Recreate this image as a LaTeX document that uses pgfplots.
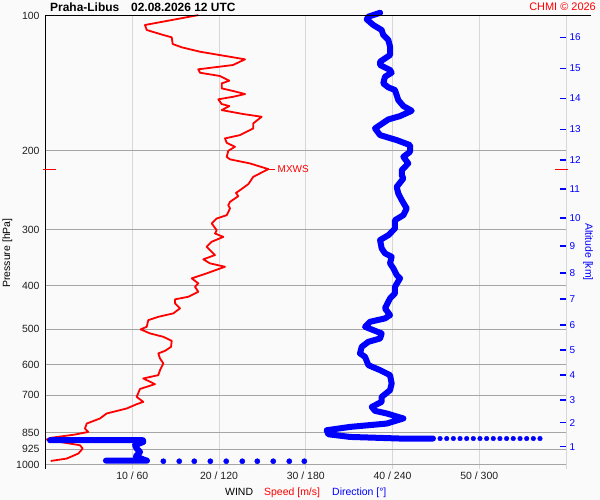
\documentclass[border=0pt]{standalone}
\usepackage{fontspec}
\setmainfont{Liberation Sans}
\usepackage{pgfplots}
\pgfplotsset{compat=1.18}
\definecolor{bg}{RGB}{250,250,250}
\definecolor{hgrid}{RGB}{165,165,165}
\definecolor{vgrid}{RGB}{215,215,215}
\definecolor{tred}{RGB}{255,0,0}
\definecolor{tblue}{RGB}{0,0,255}

\pgfplotstableread{
s p
17.61 99.8
11.47 104.99
11.67 107.72
13.58 110.52
14.55 111.82
14.66 115.73
15.70 117.71
17.81 120.41
23.00 125.19
21.61 128.92
17.61 131.77
17.81 134.10
20.12 136.40
21.19 139.74
20.31 141.6
20.31 145.3
21.65 147.32
23.00 149.59
21.65 151.69
19.92 153.69
20.31 157.46
21.19 159.11
20.31 162.42
22.80 165.76
24.92 168.09
23.95 173.88
23.95 178.41
22.42 184.66
20.69 187.80
20.89 192.09
21.84 196.08
21.07 200.14
20.89 206.40
21.27 209.1
23.57 213.5
25.68 219.8
23.95 228.7
23.38 237.4
22.42 244.88
21.96 248.3
22.22 252.5
21.27 260.0
21.07 264.47
21.27 268.9
20.89 278.40
19.73 283.2
19.16 290.5
19.73 300.67
19.54 305.8
20.50 311.2
19.16 319.0
18.58 327.3
19.54 341.54
18.19 349.1
18.96 356.4
20.69 362.7
18.58 375.1
16.85 384.9
17.61 394.9
17.23 401.9
17.61 412.3
16.46 423.0
14.93 428.6
14.93 437.6
15.50 449.0
14.73 460.6
13.00 468.8
11.85 476.79
11.67 493.4
10.97 500.0
12.05 510.4
13.58 519.4
14.55 530.2
14.47 546.8
13.78 558.1
13.00 565.6
13.20 580.3
13.58 595.4
13.20 616.27
13.00 632.29
11.27 643.0
12.62 662.1
10.89 678.7
10.51 706.7
11.27 725.1
10.51 733.8
9.36 750.1
7.05 769.6
6.28 789.6
4.75 810.3
4.55 831.3
4.93 845.8
3.40 857.3
0.52 872.3
0.14 879.5
1.67 890.4
3.98 905.64
4.29 921.2
3.78 945.1
2.44 969.7
0.60 981.6
}\speedtab

\pgfplotstableread{
d p
231.4 98.6
223.3 100.6
222.2 102.0
226.7 104.99
232.5 107.72
233.6 110.52
237.1 113.39
238.3 117.35
238.3 122.47
231.4 126.74
231.4 128.92
238.3 132.27
239.4 134.10
234.8 136.89
233.6 141.6
237.1 144.55
241.7 146.57
244.0 154.29
247.5 159.11
253.3 163.0
245.2 167.5
237.1 170.4
227.9 178.4
231.4 184.66
242.9 189.46
252.1 194.38
252.1 201.2
247.5 206.4
250.9 213.5
246.4 220.99
246.4 226.74
247.5 230.6
242.9 240.8
244.0 249.1
246.4 257.77
249.8 268.9
247.5 278.40
241.7 285.63
241.7 298.1
237.1 308.49
231.4 316.23
232.5 330.0
234.8 338.6
239.4 344.5
238.3 356.4
240.6 365.7
242.9 378.46
245.2 384.9
241.7 401.9
241.7 415.7
238.3 426.6
237.1 434.0
234.8 449.0
238.3 464.71
234.8 472.6
224.4 480.9
221.0 493.4
226.7 501.9
232.5 510.4
231.4 523.8
223.3 532.9
218.7 546.8
217.5 565.6
221.0 575.6
223.3 600.66
231.4 616.27
238.3 632.29
239.4 659.9
238.3 682.90
232.5 706.7
232.5 725.1
225.6 744.0
227.9 759.4
236.0 769.6
247.5 789.6
236.0 810.3
210.6 824.4
194.5 838.53
195.6 856.0
210.6 867.8
245.2 875.0
268.0 875.0
}\dirtab

\pgfplotstableread{
d p
3.1 882.69
67.4 882.69
67.6 890.4
61.9 905.64
63.1 921.2
65.4 937.3
62.5 958.2
68.0 975.0
70.2 980.0
41.8 980.0
}\dirlow

\pgfplotstableread{
d p
81.5 983
92.5 983
102.9 983
114.0 983
125.0 983
136.1 983
146.5 983
157.5 983
168.6 983
179.0 983
}\dirdotsA

\pgfplotstableread{
d p
272.9 875
277.5 875
282.1 875
286.7 875
291.3 875
295.9 875
300.5 875
305.1 875
309.7 875
314.3 875
318.9 875
323.5 875
328.2 875
332.8 875
337.4 875
342.0 875
}\dirdotsB

\begin{document}
\begin{tikzpicture}[x=1bp,y=1bp]
\path[use as bounding box, fill=bg] (0,0) rectangle (600,500);
\begin{axis}[
  at={(45.5bp,31bp)}, anchor=south west,
  scale only axis, width=520.5bp, height=453.5bp,
  xmin=0, xmax=60, ymode=log, ymin=100, ymax=1023, y dir=reverse,
  clip=false,
  axis line style={draw=none},
  tick style={draw=none},
  yminorticks=false,
  xtick={10,20,30,40,50,60},
  xticklabels={10 / 60, 20 / 120, 30 / 180, 40 / 240, 50 / 300, {}},
  ytick={100,200,300,400,500,600,700,850,925,1000},
  yticklabels={100,200,300,400,500,600,700,850,925,1000},
  xmajorgrids, ymajorgrids,
  x grid style={vgrid, line width=1bp},
  y grid style={hgrid, line width=1bp},
  ticklabel style={font=\fontsize{10.5}{12}\selectfont, text=black!88},
  xticklabel style={anchor=base, yshift=-10.8bp},
  yticklabel style={anchor=east, xshift=-2.5bp},
]
\addplot[tred, line width=1.8bp, line join=round] table[x=s, y=p] {\speedtab};
\end{axis}

\begin{axis}[
  at={(45.5bp,31bp)}, anchor=south west,
  scale only axis, width=520.5bp, height=453.5bp,
  xmin=0, xmax=360, ymode=log, ymin=100, ymax=1023, y dir=reverse,
  clip=false,
  hide x axis,
  axis y line*=right,
  y axis line style={draw=none},
  yminorticks=false,
  ytick={111.8,131.1,152.9,179.3,209.8,243.4,282.5,326.1,374.6,427.9,489.0,555.9,631.8,718.4,807.0,912.8},
  yticklabels={16,15,14,13,12,11,10,9,8,7,6,5,4,3,2,1},
  ytick style={tblue, line width=1.3bp},
  major tick length=6bp,
  tick align=inside,
  yticklabel style={font=\fontsize{10}{12}\selectfont, text=tblue},
]
\addplot[tblue, line width=6bp, line join=round, line cap=round] table[x=d, y=p] {\dirtab};
\addplot[tblue, line width=6bp, line join=round, line cap=round] table[x=d, y=p] {\dirlow};
\addplot[tblue, only marks, mark=*, mark size=2.6bp] table[x=d, y=p] {\dirdotsA};
\addplot[tblue, only marks, mark=*, mark size=2.3bp] table[x=d, y=p] {\dirdotsB};
\end{axis}

% frame lines
\draw[black, line width=1.3bp] (45.5,484.5) -- (45.5,31);
\draw[black, line width=1.2bp] (45,484.5) -- (591,484.5);
% MXWS markers
\draw[tred, line width=1bp] (43,330.7) -- (56,330.7);
\draw[tred, line width=1bp] (555,330.7) -- (568,330.7);
\draw[tred, line width=1bp] (268.3,330.7) -- (275,330.7);
\node[anchor=west, inner sep=0, text=tred, font=\fontsize{10}{12}\selectfont] at (277.5,330.7) {MXWS};
% titles
\node[anchor=base west, inner sep=0, font=\fontsize{12}{14}\selectfont\bfseries] at (50,488) {Praha-Libus};
\node[anchor=base west, inner sep=0, font=\fontsize{12}{14}\selectfont\bfseries] at (131,488) {02.08.2026 12 UTC};
\node[anchor=base east, inner sep=0, text=tred, font=\fontsize{11}{13}\selectfont] at (596,489) {CHMI © 2026};
\node[rotate=90, inner sep=0, font=\fontsize{10.5}{12}\selectfont] at (7.5,247) {Pressure [hPa]};
\node[rotate=-90, inner sep=0, text=tblue, font=\fontsize{10.5}{12}\selectfont] at (588,248) {Altitude [km]};
% bottom legend
\node[anchor=base west, inner sep=0, font=\fontsize{10.5}{12}\selectfont] at (225,4.5) {WIND};
\node[anchor=base west, inner sep=0, text=tred, font=\fontsize{10.5}{12}\selectfont] at (264,4.5) {Speed [m/s]};
\node[anchor=base west, inner sep=0, text=tblue, font=\fontsize{10.5}{12}\selectfont] at (332,4.5) {Direction [°]};
\end{tikzpicture}
\end{document}
